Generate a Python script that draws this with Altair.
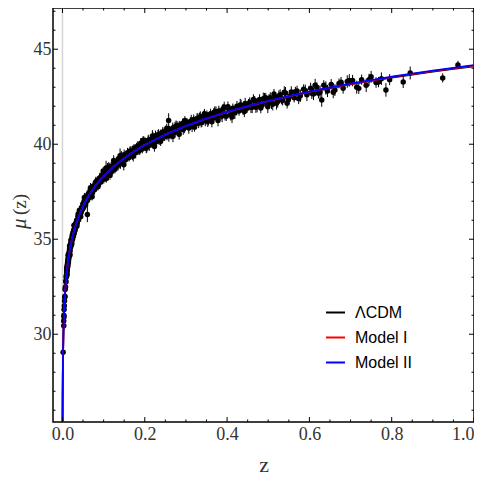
import altair as alt
import pandas as pd

z_obs = [
    0.0016, 0.0030, 0.0032, 0.0035, 0.0038, 0.0040, 0.0045, 0.0050, 0.0055, 0.0060,
    0.0065, 0.0070, 0.0075, 0.0080, 0.0085, 0.0090, 0.0095,
    0.0100, 0.0102, 0.0105, 0.0108, 0.0110, 0.0113, 0.0116, 0.0120, 0.0123, 0.0126,
    0.0130, 0.0134, 0.0138, 0.0142, 0.0146, 0.0150, 0.0155, 0.0160, 0.0165, 0.0170,
    0.0175, 0.0180, 0.0186, 0.0192, 0.0198, 0.0205, 0.0212, 0.0220, 0.0228, 0.0236,
    0.0245, 0.0255, 0.0265, 0.0275, 0.0285, 0.0295, 0.0305, 0.0318, 0.0330, 0.0345,
    0.0360, 0.0375, 0.0390,
    0.0405, 0.0420, 0.0435, 0.0450, 0.0465, 0.0480, 0.0495, 0.0510, 0.0525, 0.0540,
    0.0555, 0.0570, 0.0590, 0.0605, 0.0610, 0.0630, 0.0650, 0.0670, 0.0690, 0.0710,
    0.0730, 0.0750, 0.0775, 0.0800, 0.0825, 0.0850, 0.0875, 0.0900, 0.0925, 0.0950,
    0.0975,
    0.102, 0.105, 0.108, 0.111, 0.114, 0.117, 0.120, 0.123, 0.126, 0.129,
    0.132, 0.135, 0.138, 0.141, 0.144, 0.147, 0.150, 0.154, 0.158, 0.162,
    0.166, 0.170, 0.174, 0.178, 0.182, 0.186, 0.190, 0.194, 0.198, 0.106, 0.140,
    0.202, 0.205, 0.208, 0.211, 0.214, 0.217, 0.220, 0.223, 0.226, 0.229,
    0.232, 0.235, 0.238, 0.241, 0.244, 0.247, 0.250, 0.254, 0.258, 0.260,
    0.264, 0.268, 0.272, 0.276, 0.280, 0.284, 0.288, 0.292, 0.296, 0.299,
    0.303, 0.307, 0.311, 0.315, 0.319, 0.323, 0.327, 0.331, 0.335, 0.339,
    0.343, 0.347, 0.351, 0.355, 0.360, 0.365, 0.370, 0.375, 0.380, 0.385,
    0.390, 0.395,
    0.404, 0.409, 0.414, 0.419, 0.424, 0.429, 0.434, 0.439, 0.444, 0.449,
    0.455, 0.461, 0.467, 0.473, 0.479, 0.485, 0.491, 0.497,
    0.505, 0.511, 0.517, 0.523, 0.529, 0.535, 0.542, 0.549, 0.556, 0.563,
    0.570, 0.578, 0.586, 0.594,
    0.603, 0.610, 0.618, 0.626, 0.630, 0.635, 0.644, 0.653, 0.662, 0.672,
    0.682, 0.692,
    0.705, 0.715, 0.727, 0.738, 0.750, 0.762, 0.775, 0.786, 0.795,
    0.828, 0.845, 0.924, 0.961,
]
mu_obs = [
    29.05, 30.70, 30.45, 31.00, 30.90, 31.30, 31.50, 31.75, 31.95, 32.00,
    32.35, 32.45, 32.50, 32.80, 32.75, 33.00, 33.10,
    33.05, 33.35, 33.25, 33.45, 33.30, 33.55, 33.40, 33.70, 33.52, 33.80,
    33.65, 33.95, 33.78, 34.05, 33.88, 34.15, 33.98, 34.30, 34.12, 34.45,
    34.28, 34.55, 34.40, 34.72, 34.58, 34.85, 34.70, 35.00, 34.85, 35.15,
    35.00, 35.35, 35.15, 35.50, 35.30, 35.70, 35.50, 35.80, 35.65, 36.00,
    35.85, 36.20, 36.05,
    36.35, 36.20, 36.50, 36.40, 36.65, 36.55, 36.85, 36.70, 37.00, 36.82,
    37.10, 36.95, 37.25, 36.30, 37.05, 37.40, 37.20, 37.55, 37.35, 37.65,
    37.45, 37.80, 37.60, 37.95, 37.75, 38.10, 37.90, 38.20, 38.00, 38.35,
    38.15,
    38.50, 38.30, 38.60, 38.40, 38.75, 38.55, 38.85, 38.65, 39.00, 38.80,
    39.10, 38.90, 39.25, 39.00, 39.30, 39.10, 39.45, 39.20, 39.55, 39.30,
    39.65, 39.45, 39.80, 39.55, 39.90, 39.65, 40.05, 39.75, 40.15, 38.75, 39.40,
    40.10, 39.85, 40.20, 39.95, 40.25, 40.05, 40.35, 40.10, 40.45, 40.15,
    40.50, 40.25, 40.55, 40.30, 40.65, 40.40, 40.70, 40.45, 41.25, 40.75,
    40.50, 40.85, 40.60, 40.95, 40.70, 41.00, 40.80, 41.10, 40.85, 41.15,
    41.10, 40.85, 41.20, 40.95, 41.30, 41.05, 41.35, 41.10, 41.45, 41.15,
    41.50, 41.25, 41.55, 41.30, 41.60, 41.35, 41.70, 41.40, 41.75, 41.50,
    41.85, 41.55,
    41.85, 41.55, 41.90, 41.65, 42.00, 41.75, 42.05, 41.80, 42.15, 41.90,
    42.20, 41.95, 42.30, 42.00, 42.35, 42.05, 42.40, 42.15,
    42.45, 42.10, 42.50, 42.25, 42.60, 42.30, 42.70, 42.35, 42.75, 42.45,
    42.80, 42.55, 42.90, 42.60,
    42.95, 42.65, 43.00, 42.75, 42.33, 43.10, 42.80, 43.15, 42.85, 43.20,
    42.95, 43.30,
    43.35, 43.00, 43.40, 43.10, 43.55, 43.25, 43.45, 42.86, 43.40,
    43.28, 43.75, 43.49, 44.17,
]
err_obs = [
    0.25, 0.22, 0.24, 0.21, 0.23, 0.20, 0.22, 0.19, 0.21, 0.20,
    0.22, 0.19, 0.21, 0.20, 0.22, 0.19, 0.21,
    0.20, 0.24, 0.18, 0.26, 0.22, 0.19, 0.25, 0.21, 0.23, 0.18,
    0.20, 0.24, 0.18, 0.26, 0.22, 0.19, 0.25, 0.21, 0.23, 0.18,
    0.20, 0.24, 0.18, 0.26, 0.22, 0.19, 0.25, 0.21, 0.23, 0.18,
    0.20, 0.24, 0.18, 0.26, 0.22, 0.19, 0.25, 0.21, 0.23, 0.18,
    0.20, 0.24, 0.22,
    0.22, 0.26, 0.19, 0.27, 0.23, 0.20, 0.25, 0.21, 0.24, 0.19,
    0.22, 0.26, 0.19, 0.40, 0.23, 0.20, 0.25, 0.21, 0.24, 0.19,
    0.22, 0.26, 0.19, 0.27, 0.23, 0.20, 0.25, 0.21, 0.24, 0.19,
    0.22,
    0.24, 0.28, 0.21, 0.29, 0.25, 0.22, 0.27, 0.23, 0.26, 0.21,
    0.24, 0.28, 0.21, 0.29, 0.25, 0.22, 0.27, 0.23, 0.26, 0.21,
    0.24, 0.28, 0.21, 0.29, 0.25, 0.22, 0.27, 0.23, 0.26, 0.38, 0.38,
    0.25, 0.29, 0.22, 0.30, 0.26, 0.23, 0.28, 0.24, 0.27, 0.22,
    0.25, 0.29, 0.22, 0.30, 0.26, 0.23, 0.28, 0.24, 0.38, 0.22,
    0.25, 0.29, 0.22, 0.30, 0.26, 0.23, 0.28, 0.24, 0.27, 0.22,
    0.26, 0.30, 0.23, 0.31, 0.27, 0.24, 0.29, 0.25, 0.28, 0.23,
    0.26, 0.30, 0.23, 0.31, 0.27, 0.24, 0.29, 0.25, 0.28, 0.23,
    0.26, 0.30,
    0.27, 0.31, 0.24, 0.32, 0.28, 0.25, 0.30, 0.26, 0.29, 0.24,
    0.27, 0.31, 0.24, 0.32, 0.28, 0.25, 0.30, 0.26,
    0.28, 0.32, 0.25, 0.33, 0.29, 0.26, 0.31, 0.27, 0.30, 0.25,
    0.28, 0.32, 0.25, 0.33,
    0.29, 0.33, 0.26, 0.34, 0.36, 0.27, 0.32, 0.28, 0.31, 0.26,
    0.29, 0.33,
    0.30, 0.34, 0.27, 0.35, 0.31, 0.28, 0.33, 0.36, 0.29,
    0.32, 0.34, 0.24, 0.22,
]

# second batch of supernovae (wider scatter)
z_obs2 = [
    0.0104, 0.0112, 0.0118, 0.0128, 0.0136, 0.0144, 0.0152, 0.0163, 0.0172, 0.0183,
    0.0195, 0.0208, 0.0224, 0.0240, 0.0260, 0.0280, 0.0300, 0.0325, 0.0352, 0.0382,
    0.0412, 0.0442, 0.0472, 0.0502, 0.0532, 0.0562, 0.0598, 0.0640, 0.0680, 0.0720,
    0.0762, 0.0812, 0.0862, 0.0912, 0.0962, 0.0990,
    0.1005, 0.1035, 0.1065, 0.1095, 0.1125, 0.1155, 0.1185, 0.1215, 0.1245, 0.1275,
    0.131, 0.137, 0.143, 0.149, 0.156, 0.164, 0.172, 0.180, 0.188, 0.196,
    0.2035, 0.2085, 0.2135, 0.2185, 0.2235, 0.2285, 0.2335, 0.2385, 0.2435, 0.2485,
    0.2535, 0.2585, 0.2635, 0.2685, 0.2735, 0.2785, 0.2835, 0.2885, 0.2935, 0.2975,
    0.305, 0.313, 0.321, 0.329, 0.337, 0.345, 0.353, 0.358, 0.363, 0.368,
    0.373, 0.378, 0.383, 0.388, 0.393, 0.398, 0.333, 0.349,
    0.402, 0.412, 0.422, 0.432, 0.442, 0.452, 0.458, 0.464, 0.470, 0.476,
    0.482, 0.488, 0.494, 0.499,
    0.502, 0.508, 0.514, 0.520, 0.526, 0.532, 0.539, 0.546, 0.553, 0.566,
    0.574, 0.590,
    0.606, 0.614, 0.622, 0.640, 0.658, 0.677, 0.697, 0.720, 0.745, 0.768,
]
mu_obs2 = [
    33.48, 33.14, 33.62, 33.60, 34.17, 33.78, 34.24, 34.20, 34.64, 34.17,
    34.66, 34.96, 34.73, 35.22, 35.20, 35.74, 35.44, 35.82, 35.70, 36.33,
    36.52, 36.18, 36.69, 36.63, 37.20, 36.80, 37.29, 37.25, 37.71, 37.24,
    37.72, 38.02, 37.76, 38.23, 38.15, 38.59,
    38.18, 38.44, 38.20, 38.71, 38.80, 38.36, 38.78, 38.64, 39.15, 38.68,
    39.09, 38.99, 39.42, 38.92, 39.37, 39.65, 39.37, 39.82, 39.72, 40.21,
    39.79, 40.20, 40.05, 40.43, 39.88, 40.29, 40.50, 40.16, 40.55, 40.41,
    40.83, 40.43, 40.67, 40.42, 40.91, 40.98, 40.53, 40.93, 40.78, 41.25,
    41.01, 41.24, 40.90, 41.30, 41.16, 41.61, 41.21, 41.45, 41.18, 41.67,
    41.72, 41.25, 41.65, 41.48, 41.96, 41.47, 41.36, 41.29,
    41.97, 41.43, 41.84, 42.06, 41.72, 42.12, 41.95, 42.36, 41.95, 42.18,
    41.91, 42.40, 42.45, 41.97,
    42.35, 42.18, 42.65, 42.16, 42.54, 42.37, 42.73, 42.16, 42.54, 42.76,
    42.40, 42.81,
    42.68, 43.10, 42.68, 42.96, 42.73, 43.26, 43.36, 42.94, 43.39, 43.27,
]
err_obs2 = [
    0.21, 0.25, 0.19, 0.27, 0.23, 0.20, 0.26, 0.22, 0.24, 0.19,
    0.21, 0.25, 0.19, 0.27, 0.23, 0.20, 0.26, 0.22, 0.24, 0.19,
    0.23, 0.27, 0.20, 0.28, 0.24, 0.21, 0.26, 0.22, 0.25, 0.20,
    0.23, 0.27, 0.20, 0.28, 0.24, 0.21,
    0.25, 0.29, 0.22, 0.30, 0.26, 0.23, 0.28, 0.24, 0.27, 0.22,
    0.25, 0.29, 0.22, 0.30, 0.26, 0.23, 0.28, 0.24, 0.27, 0.22,
    0.26, 0.30, 0.23, 0.31, 0.27, 0.24, 0.29, 0.25, 0.28, 0.23,
    0.26, 0.30, 0.23, 0.31, 0.27, 0.24, 0.29, 0.25, 0.28, 0.23,
    0.27, 0.31, 0.24, 0.32, 0.28, 0.25, 0.30, 0.26, 0.29, 0.24,
    0.27, 0.31, 0.24, 0.32, 0.28, 0.25, 0.30, 0.26,
    0.28, 0.32, 0.25, 0.33, 0.29, 0.26, 0.31, 0.27, 0.30, 0.25,
    0.28, 0.32, 0.25, 0.33,
    0.29, 0.33, 0.26, 0.34, 0.30, 0.27, 0.32, 0.28, 0.31, 0.26,
    0.29, 0.33,
    0.30, 0.34, 0.27, 0.35, 0.31, 0.28, 0.33, 0.29, 0.32, 0.27,
]

# ---------------- model curves ----------------
z_curve = [0.00027, 0.0003, 0.0005, 0.001, 0.0016, 0.0025, 0.003, 0.004, 0.005, 0.006,
           0.008, 0.01, 0.0125, 0.015, 0.02, 0.025, 0.03, 0.04, 0.05, 0.06,
           0.07, 0.08, 0.09, 0.1, 0.125, 0.15, 0.175, 0.2, 0.25, 0.3,
           0.35, 0.4, 0.45, 0.5, 0.55, 0.6, 0.65, 0.7, 0.75, 0.8,
           0.85, 0.9, 0.95, 1.0]
mu_lcdm = [25.315, 25.544, 26.654, 28.159, 29.18, 30.149, 30.545, 31.169, 31.662, 32.06,
           32.69, 33.175, 33.664, 34.064, 34.697, 35.191, 35.594, 36.236, 36.736, 37.149,
           37.499, 37.805, 38.077, 38.315, 38.835, 39.266, 39.634, 39.956, 40.502, 40.955,
           41.344, 41.684, 41.988, 42.261, 42.510, 42.739, 42.950, 43.147, 43.331, 43.503,
           43.665, 43.818, 43.963, 44.100]
mu_model1 = mu_lcdm[:28] + [40.504, 40.959, 41.350, 41.692, 41.998, 42.273, 42.524, 42.755,
                            42.968, 43.167, 43.353, 43.527, 43.691, 43.846, 43.993, 44.132]
mu_model2 = mu_lcdm[:28] + [40.506, 40.963, 41.356, 41.700, 42.008, 42.285, 42.538, 42.771,
                            42.986, 43.187, 43.375, 43.551, 43.717, 43.874, 44.023, 44.164]
series_names = ["\u039bCDM", "Model I", "Model II"]
series_colors = ["black", "red", "blue"]

# ---------------- axis ticks ----------------
x_major = [0.0, 0.2, 0.4, 0.6, 0.8, 1.0]
x_minor = [0.05, 0.1, 0.15, 0.25, 0.3, 0.35, 0.45, 0.5, 0.55, 0.65, 0.7, 0.75, 0.85, 0.9, 0.95]
y_major = [30, 35, 40, 45]
y_minor = [26, 27, 28, 29, 31, 32, 33, 34, 36, 37, 38, 39, 41, 42, 43, 44, 46, 47]

obs = pd.DataFrame({"z": z_obs + z_obs2, "mu": mu_obs + mu_obs2, "err": err_obs + err_obs2})
obs["lo"] = obs["mu"] - obs["err"]
obs["hi"] = obs["mu"] + obs["err"]

curves = pd.concat([
    pd.DataFrame({"z": z_curve, "mu": m, "model": name, "order": i})
    for i, (name, m) in enumerate(zip(series_names, [mu_lcdm, mu_model1, mu_model2]))
])

W, H = 421, 414
xs = alt.Scale(domain=[-0.023, 1.0], nice=False, zero=False)
ys = alt.Scale(domain=[25.38, 47.17], nice=False, zero=False)
SERIF = "Liberation Serif"
LBL = "#333333"

x_axis = alt.Axis(values=x_major, format=".1f", ticks=False, domain=False, grid=False,
                  labelFont=SERIF, labelFontSize=18, labelColor=LBL, labelPadding=3, title=None)
y_axis = alt.Axis(values=y_major, format="d", ticks=False, domain=False, grid=False,
                  labelFont=SERIF, labelFontSize=18, labelColor=LBL, labelPadding=2, title=None)

X = lambda f: alt.X(f, type="quantitative", scale=xs, axis=x_axis)
Y = lambda f: alt.Y(f, type="quantitative", scale=ys, axis=y_axis)

zero_line = alt.Chart(pd.DataFrame({"z": [0.0]})).mark_rule(color="#d4d4d4", strokeWidth=1.5).encode(
    x=X("z"))

errbars = alt.Chart(obs).mark_rule(color="black", strokeWidth=1).encode(
    x=X("z"), y=Y("lo"), y2="hi:Q")

points = alt.Chart(obs).mark_circle(color="black", size=30, opacity=1).encode(
    x=X("z"), y=Y("mu"))

lines = alt.Chart(curves).mark_line(strokeWidth=1.8, clip=True).encode(
    x=X("z"), y=Y("mu"),
    order="order:Q",
    color=alt.Color("model:N",
                    scale=alt.Scale(domain=series_names, range=series_colors),
                    sort=series_names,
                    legend=alt.Legend(orient="none", legendX=272, legendY=294, title=None,
                                      symbolType="stroke", symbolSize=361, symbolStrokeWidth=2,
                                      labelFont="Liberation Sans", labelFontSize=16,
                                      labelColor="black", rowPadding=6, labelOffset=9,
                                      padding=0)))


def xticks(vals, L):
    df = pd.DataFrame({"t": vals})
    base = alt.Chart(df).mark_rule(color="black", strokeWidth=1)
    bot = base.encode(x=X("t"), y=alt.value(H), y2=alt.value(H - L))
    top = base.encode(x=X("t"), y=alt.value(0), y2=alt.value(L))
    return [bot, top]


def yticks(vals, L):
    df = pd.DataFrame({"t": vals})
    base = alt.Chart(df).mark_rule(color="black", strokeWidth=1)
    left = base.encode(y=Y("t"), x=alt.value(0), x2=alt.value(L))
    right = base.encode(y=Y("t"), x=alt.value(W), x2=alt.value(W - L))
    return [left, right]


ticks = xticks(x_major, 5) + xticks(x_minor, 2.5) + yticks(y_major, 5) + yticks(y_minor, 2.5)

x_title = alt.Chart(pd.DataFrame({"t": ["z"]})).mark_text(
    font=SERIF, fontSize=22, color=LBL, align="center", baseline="alphabetic").encode(
    text="t:N", x=alt.value(211), y=alt.value(464))
mu_title = alt.Chart(pd.DataFrame({"t": ["\u03bc"]})).mark_text(
    font=SERIF, fontSize=21, fontStyle="italic", color=LBL, angle=270, align="left",
    baseline="middle").encode(text="t:N", x=alt.value(-33), y=alt.value(221))
z_title = alt.Chart(pd.DataFrame({"t": ["(z)"]})).mark_text(
    font=SERIF, fontSize=19, color=LBL, angle=270, align="left",
    baseline="middle").encode(text="t:N", x=alt.value(-33), y=alt.value(207))

chart = alt.layer(zero_line, errbars, points, lines, *ticks, x_title, mu_title, z_title).properties(
    width=W, height=H,
    padding={"left": 45, "top": 0, "right": 0, "bottom": 57},
    autosize=alt.AutoSizeParams(type="none"),
).configure_view(stroke="black", strokeWidth=1.5).configure_axis(
    labelFont=SERIF, labelFontSize=18, labelColor=LBL)

chart.save("out.html", embed_options={"renderer": "svg", "actions": False})
